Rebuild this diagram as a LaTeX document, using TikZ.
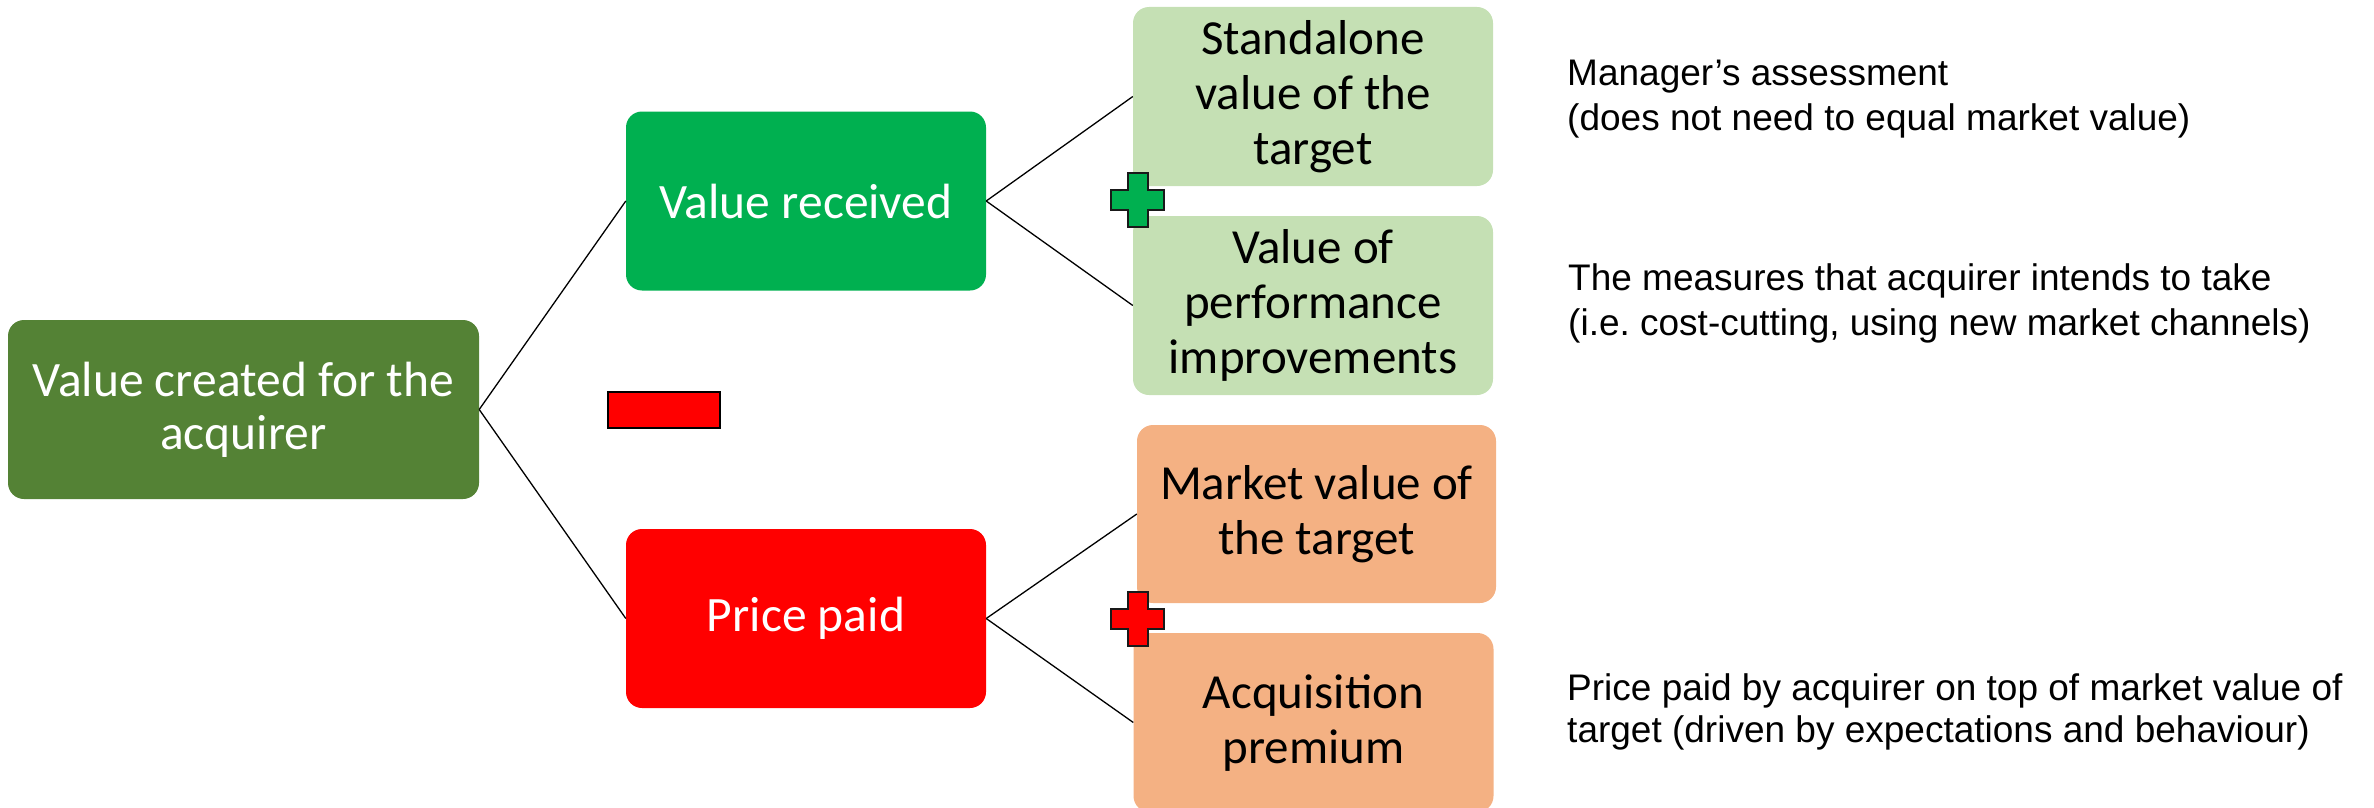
\documentclass[tikz,border=0pt]{standalone}
\usepackage{fontspec}
\setmainfont{Carlito}
\newfontfamily\arialf{Liberation Sans}
\definecolor{rootg}{HTML}{548235}
\definecolor{vrg}{HTML}{00B050}
\definecolor{ppr}{HTML}{FF0000}
\definecolor{lightg}{HTML}{C5E0B4}
\definecolor{lighto}{HTML}{F4B183}
\frenchspacing
\begin{document}
\begin{tikzpicture}[x=1pt,y=-1pt,
  box/.style={rectangle, rounded corners=16pt, inner sep=0pt, align=center,
    minimum width=360pt, minimum height=179pt, font=\fontsize{49}{55}\selectfont},
  mainbox/.style={box, text=white, font=\fontsize{49.5}{53}\selectfont},
  link/.style={draw=black, line width=1.3pt},
  note/.style={anchor=base west, inner sep=0pt, font=\arialf\fontsize{37}{45}\selectfont},
  plusmark/.pic={\draw[draw=black!90, line width=2pt, fill=#1]
    (-10,-27) -- (10,-27) -- (10,-10) -- (26.5,-10) -- (26.5,10) -- (10,10)
    -- (10,27) -- (-10,27) -- (-10,10) -- (-26.5,10) -- (-26.5,-10) -- (-10,-10) -- cycle;}]
\useasboundingbox (0,0) rectangle (2374,808);

\node[mainbox, fill=rootg, minimum width=471pt] (root) at (243.5,409.5) {Value created for the\\acquirer};
\node[mainbox, fill=vrg] (vr) at (806,201) {Value received};
\node[mainbox, fill=ppr] (pp) at (806,618.5) {Price paid};

\node[box, fill=lightg] (sa) at (1313,96.5) {Standalone\\value of the\\target};
\node[box, fill=lightg] (pi) at (1313,305.5) {Value of\\performance\\improvements};
\node[box, fill=lighto, minimum width=359pt, minimum height=178pt] (mv) at (1316.5,514) {Market value of\\the target};
\node[box, fill=lighto] (ap) at (1313.5,722.5) {Acquisition\\premium};

\node[draw=black, line width=2pt, fill=ppr, minimum width=112pt, minimum height=36pt, inner sep=0pt] (minus) at (664,410) {};
\pic at (1137.5,200) {plusmark=vrg};
\pic at (1137.5,619) {plusmark=ppr};

\draw[link] (root.east) -- (vr.west);
\draw[link] (root.east) -- (pp.west);
\draw[link] (vr.east) -- (sa.west);
\draw[link] (vr.east) -- (pi.west);
\draw[link] (pp.east) -- (mv.west);
\draw[link] (pp.east) -- (ap.west);

\node[note] (n1a) at (1567,85) {Manager’s assessment};
\node[note] (n1b) at (1567,130) {(does not need to equal market value)};
\node[note] (n2a) at (1568,290) {The measures that acquirer intends to take};
\node[note] (n2b) at (1568,335) {(i.e. cost-cutting, using new market channels)};
\node[note] (n3a) at (1567,700) {Price paid by acquirer on top of market value of};
\node[note] (n3b) at (1567,742) {target (driven by expectations and behaviour)};
\end{tikzpicture}
\end{document}
